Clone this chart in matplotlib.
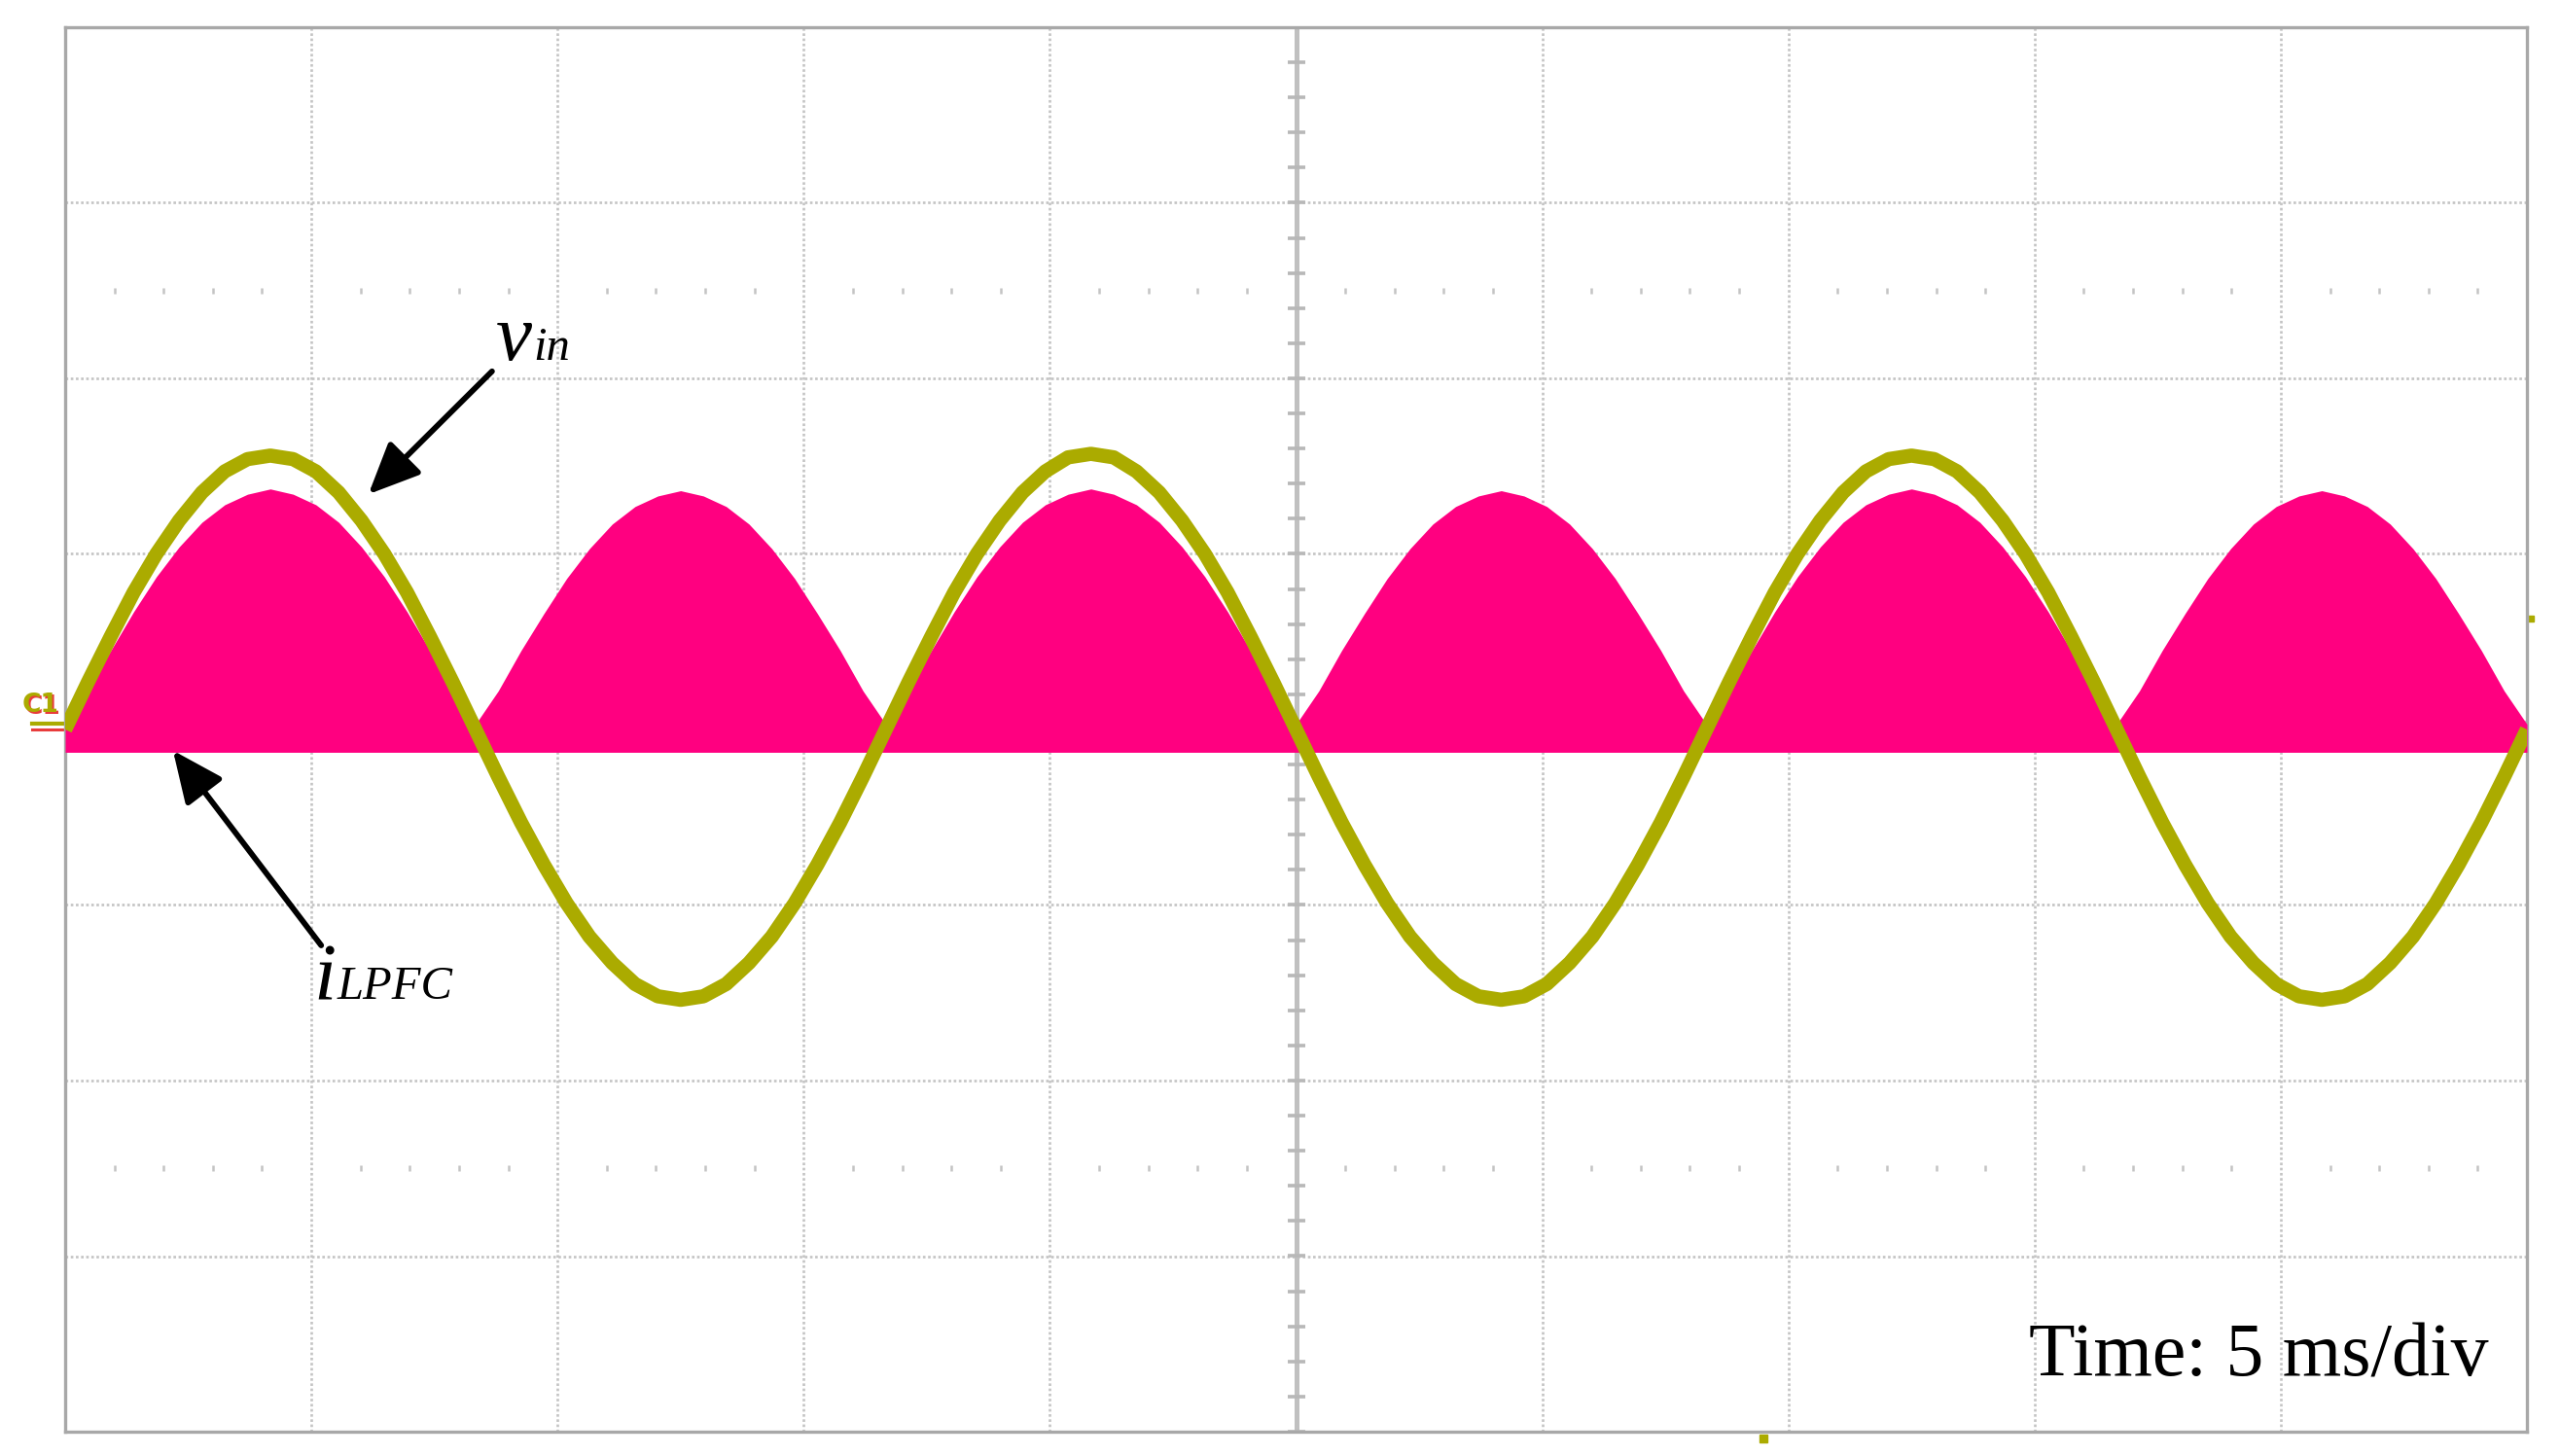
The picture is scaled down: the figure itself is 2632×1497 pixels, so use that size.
import numpy as np
import matplotlib.pyplot as plt

# scope capture: 5 ms/div, 10 div wide, 8 div tall; samples every 10 deg of 60 Hz
t_ms = np.linspace(0, 50, 109)

# input voltage trace (div)
vin_div = [
    0.00, 0.27, 0.53, 0.78, 1.00, 1.19, 1.35, 1.47, 1.54, 1.56, 1.54, 1.47, 1.35, 1.19, 1.00, 0.78, 0.53, 0.27,
    0.00, -0.27, -0.53, -0.77, -0.99, -1.18, -1.33, -1.45, -1.52, -1.54, -1.52, -1.45, -1.33, -1.18, -0.99, -0.77, -0.53, -0.27,
    0.00, 0.27, 0.53, 0.78, 1.00, 1.19, 1.35, 1.47, 1.55, 1.57, 1.55, 1.47, 1.35, 1.19, 1.00, 0.78, 0.53, 0.27,
    0.00, -0.27, -0.53, -0.77, -0.99, -1.18, -1.33, -1.45, -1.52, -1.54, -1.52, -1.45, -1.33, -1.18, -0.99, -0.77, -0.53, -0.27,
    0.00, 0.27, 0.53, 0.78, 1.00, 1.19, 1.35, 1.47, 1.54, 1.56, 1.54, 1.47, 1.35, 1.19, 1.00, 0.78, 0.53, 0.27,
    0.00, -0.27, -0.53, -0.77, -0.99, -1.18, -1.33, -1.45, -1.52, -1.54, -1.52, -1.45, -1.33, -1.18, -0.99, -0.77, -0.53, -0.27,
    0.00,
]

# inductor current: upper envelope of the switching ripple band (div)
i_env_div = [
    0.03, 0.22, 0.45, 0.67, 0.87, 1.04, 1.18, 1.28, 1.34, 1.37, 1.34, 1.28, 1.18, 1.04, 0.87, 0.67, 0.45, 0.22,
    0.03, 0.22, 0.45, 0.66, 0.86, 1.03, 1.17, 1.27, 1.33, 1.36, 1.33, 1.27, 1.17, 1.03, 0.86, 0.66, 0.45, 0.22,
    0.03, 0.22, 0.45, 0.67, 0.87, 1.04, 1.18, 1.28, 1.34, 1.37, 1.34, 1.28, 1.18, 1.04, 0.87, 0.67, 0.45, 0.22,
    0.03, 0.22, 0.45, 0.66, 0.86, 1.03, 1.17, 1.27, 1.33, 1.36, 1.33, 1.27, 1.17, 1.03, 0.86, 0.66, 0.45, 0.22,
    0.03, 0.22, 0.45, 0.67, 0.87, 1.04, 1.18, 1.28, 1.34, 1.37, 1.34, 1.28, 1.18, 1.04, 0.87, 0.67, 0.45, 0.22,
    0.03, 0.22, 0.45, 0.66, 0.86, 1.03, 1.17, 1.27, 1.33, 1.36, 1.33, 1.27, 1.17, 1.03, 0.86, 0.66, 0.45, 0.22,
    0.03,
]
i_floor_div = -0.13

trig_time_ms = 34.5
trig_level_div = 0.63

OLIVE = "#ABAB00"
PINK = "#FF0080"
GRID = "#c4c4c4"

fig = plt.figure(figsize=(26.32, 14.97), dpi=100)
ax = fig.add_axes([67 / 2632, 1 - 1472 / 1497, (2598 - 67) / 2632, (1472 - 28) / 1497])
ax.set_xlim(0, 50)
ax.set_ylim(-4, 4)
ax.set_xticks([])
ax.set_yticks([])
for s in ax.spines.values():
    s.set_color("#a8a8a8")
    s.set_linewidth(2.4)

# graticule
for x in range(5, 50, 5):
    if x != 25:
        ax.axvline(x, color=GRID, lw=1.9, ls=(0, (1, 1)), zorder=1)
for y in range(-3, 4):
    if y != 0:
        ax.axhline(y, color=GRID, lw=1.9, ls=(0, (1, 1)), zorder=1)
sub_x = [x for x in np.arange(1, 50, 1.0) if x % 5 != 0]
for y in (2.5, -2.5):
    ax.plot(sub_x, [y] * len(sub_x), ls="none", marker="|", ms=4, mew=1.8,
            color=GRID, zorder=1)
ax.axvline(25, color="#c0c0c0", lw=3.6, zorder=2)
ax.axhline(0, color="#c0c0c0", lw=3.6, zorder=2)
ty = np.arange(-4, 4.01, 0.2)
ax.plot([25] * len(ty), ty, ls="none", marker="_", ms=13, mew=2.6, color="#b8b8b8", zorder=2)
tx = np.arange(0, 50.01, 1.0)
ax.plot(tx, [0] * len(tx), ls="none", marker="|", ms=13, mew=2.6, color="#b8b8b8", zorder=2)

# traces
ax.fill_between(t_ms, i_floor_div, i_env_div, color=PINK, lw=0, zorder=3)
ax.plot(t_ms, vin_div, color=OLIVE, lw=10.5, solid_capstyle="butt", zorder=4)

# channel / trigger markers
ax.text(-0.83, 0.09, "C1", color="#e83c3c", fontsize=19, fontweight="bold",
        ha="left", va="baseline", clip_on=False)
ax.text(-0.87, 0.1, "C1", color=OLIVE, fontsize=19, fontweight="bold",
        ha="left", va="baseline", clip_on=False)
ax.plot([-0.68, -0.05], [0.035, 0.035], color=OLIVE, lw=3, clip_on=False)
ax.plot([-0.68, -0.05], [0.0, 0.0], color="#e83c3c", lw=2.2, clip_on=False)
ax.plot([trig_time_ms], [-4.04], marker="s", ms=6, color=OLIVE, clip_on=False)
ax.plot([50.08], [trig_level_div], marker="s", ms=5, color=OLIVE, clip_on=False)

# labels
arrow = dict(arrowstyle="-|>,head_length=0.85,head_width=0.38", color="black",
             lw=4.2, shrinkA=0, shrinkB=0, mutation_scale=38)
ax.annotate("", xy=(6.16, 1.34), xytext=(8.67, 2.04), arrowprops=arrow, zorder=5)
ax.annotate("", xy=(2.19, -0.12), xytext=(5.2, -1.23), arrowprops=arrow, zorder=5)

serif = "Liberation Serif"
ax.text(8.74, 2.105, "v", fontsize=60, style="italic", family=serif, ha="left", va="baseline")
ax.text(9.50, 2.105, "in", fontsize=35, style="italic", family=serif, ha="left", va="baseline")
ax.text(5.05, -1.535, "i", fontsize=60, style="italic", family=serif, ha="left", va="baseline")
ax.text(5.53, -1.535, "LPFC", fontsize=35, style="italic", family=serif, ha="left", va="baseline")
ax.text(44.55, -3.684, "Time: 5 ms/div", fontsize=56, family=serif, ha="center", va="baseline")

fig.savefig("out.png", dpi=100, facecolor="white")
